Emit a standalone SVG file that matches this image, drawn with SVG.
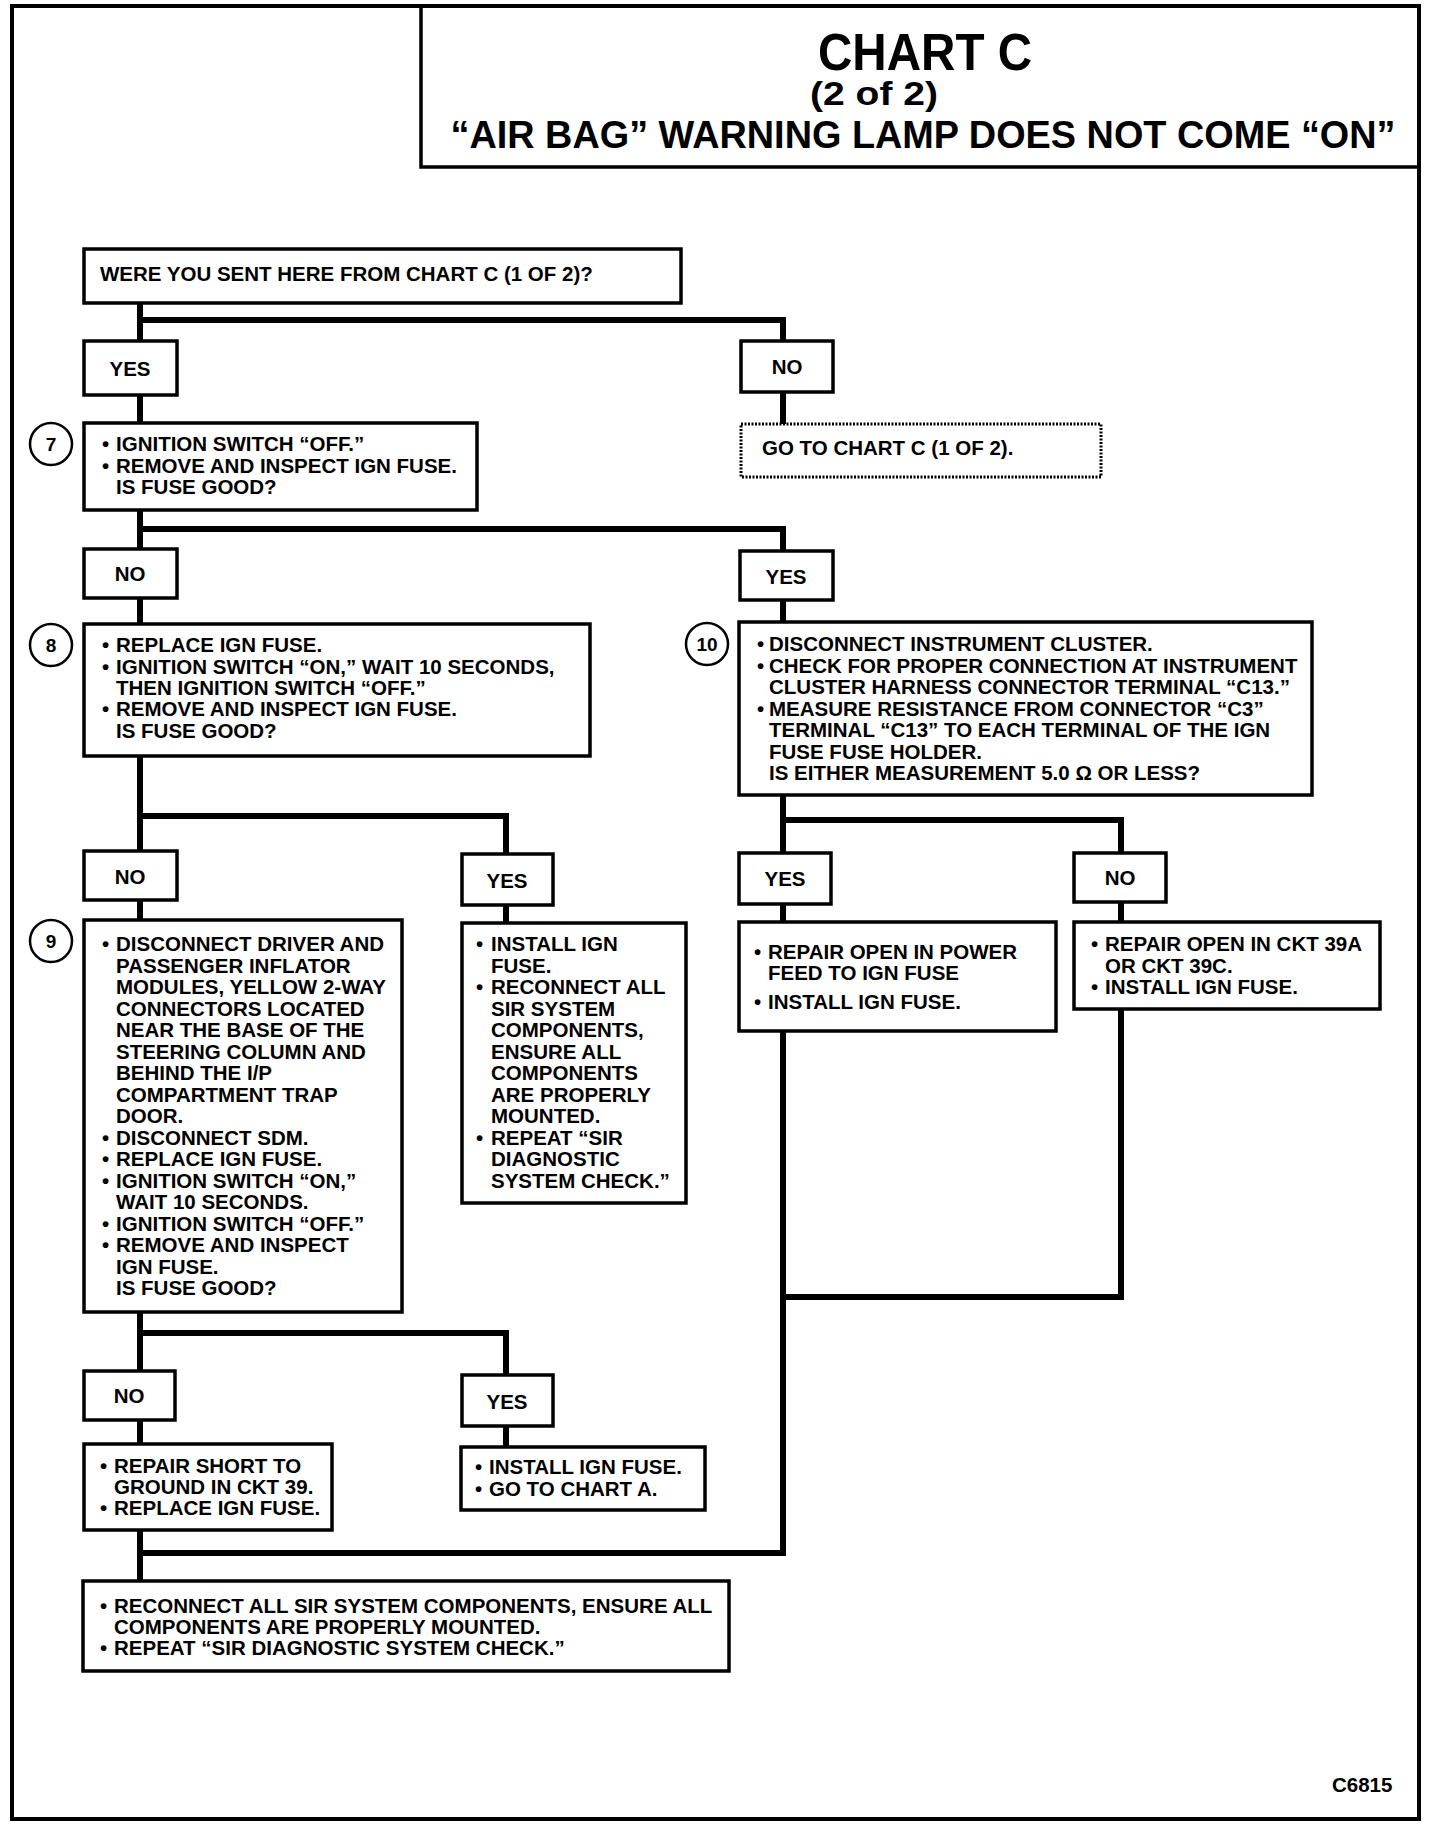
<svg xmlns="http://www.w3.org/2000/svg" width="1440" height="1830" viewBox="0 0 1440 1830">
<style>
.box{fill:#fff;stroke:#000;stroke-width:3.5}
.dash{fill:#fff;stroke:#000;stroke-width:3;stroke-dasharray:2 1.5}
.conn{fill:none;stroke:#000;stroke-width:6;stroke-linecap:square}
.circ{fill:#fff;stroke:#000;stroke-width:2.5}
.t{font-family:"Liberation Sans",Arial,sans-serif;font-weight:bold;font-size:20.5px;fill:#000}
.c{text-anchor:middle}
.num{font-family:"Liberation Sans",Arial,sans-serif;font-weight:bold;font-size:19px;text-anchor:middle;fill:#000}
.title{font-family:"Liberation Sans",Arial,sans-serif;font-weight:bold;fill:#000;text-anchor:middle}
</style>
<rect width="1440" height="1830" fill="#fff"/>
<rect x="12" y="6" width="1407" height="1813" fill="none" stroke="#000" stroke-width="4"/>

<g id="title">
<rect x="421" y="6" width="998" height="161" fill="none" stroke="#000" stroke-width="3.5"/>
<text class="title" x="925" y="70" font-size="52" textLength="214" lengthAdjust="spacingAndGlyphs">CHART C</text>
<text class="title" x="874" y="105" font-size="34" textLength="128" lengthAdjust="spacingAndGlyphs">(2 of 2)</text>
<text class="title" x="923" y="148" font-size="39" textLength="945" lengthAdjust="spacingAndGlyphs">“AIR BAG” WARNING LAMP DOES NOT COME “ON”</text>
</g>

<g id="connectors">
<path class="conn" d="M140 303 V341 M140 320 H783 V341"/>
<path class="conn" d="M140 395 V423"/>
<path class="conn" d="M783 392 V424"/>
<path class="conn" d="M140 510 V549 M140 529 H783 V551"/>
<path class="conn" d="M140 598 V624"/>
<path class="conn" d="M783 600 V622"/>
<path class="conn" d="M140 756 V851 M140 816 H506 V854"/>
<path class="conn" d="M140 900 V920"/>
<path class="conn" d="M506 905 V923"/>
<path class="conn" d="M783 795 V853 M783 820 H1121 V853"/>
<path class="conn" d="M783 904 V922"/>
<path class="conn" d="M1121 902 V922"/>
<path class="conn" d="M783 1031 V1553"/>
<path class="conn" d="M1121 1009 V1297 H783"/>
<path class="conn" d="M140 1312 V1371 M140 1333 H506 V1375"/>
<path class="conn" d="M140 1420 V1444"/>
<path class="conn" d="M506 1426 V1447"/>
<path class="conn" d="M140 1530 V1581 M140 1553 H783"/>
</g>

<g id="q-sent">
<rect class="box" x="84" y="249" width="597" height="54"/>
<text class="t" x="100" y="281">WERE YOU SENT HERE FROM CHART C (1 OF 2)?</text>
</g>

<g id="yes-1">
<rect class="box" x="84" y="341" width="93" height="54"/>
<text class="t c" x="130" y="376">YES</text>
</g>
<g id="no-1">
<rect class="box" x="741" y="341" width="92" height="51"/>
<text class="t c" x="787" y="374">NO</text>
</g>
<g id="goto-c1">
<rect class="dash" x="741" y="424" width="360" height="53"/>
<text class="t" x="762" y="455">GO TO CHART C (1 OF 2).</text>
</g>

<g id="step7">
<circle class="circ" cx="51" cy="444" r="21"/>
<text class="num" x="51" y="451">7</text>
<rect class="box" x="84" y="423" width="393" height="87"/>
<text class="t" x="102" y="451">•<tspan x="116">IGNITION SWITCH “OFF.”</tspan></text>
<text class="t" x="102" y="473">•<tspan x="116">REMOVE AND INSPECT IGN FUSE.</tspan></text>
<text class="t" x="116" y="494">IS FUSE GOOD?</text>
</g>

<g id="no-2">
<rect class="box" x="84" y="549" width="93" height="49"/>
<text class="t c" x="130" y="581">NO</text>
</g>
<g id="yes-2">
<rect class="box" x="740" y="551" width="93" height="49"/>
<text class="t c" x="786" y="584">YES</text>
</g>

<g id="step8">
<circle class="circ" cx="51" cy="645" r="21"/>
<text class="num" x="51" y="652">8</text>
<rect class="box" x="84" y="624" width="506" height="132"/>
<text class="t" x="102" y="652">•<tspan x="116">REPLACE IGN FUSE.</tspan></text>
<text class="t" x="102" y="674">•<tspan x="116">IGNITION SWITCH “ON,” WAIT 10 SECONDS,</tspan></text>
<text class="t" x="116" y="695">THEN IGNITION SWITCH “OFF.”</text>
<text class="t" x="102" y="716">•<tspan x="116">REMOVE AND INSPECT IGN FUSE.</tspan></text>
<text class="t" x="116" y="738">IS FUSE GOOD?</text>
</g>

<g id="step10">
<circle class="circ" cx="707" cy="644" r="21"/>
<text class="num" x="707" y="651">10</text>
<rect class="box" x="739" y="622" width="573" height="173"/>
<text class="t" x="757" y="651">•<tspan x="769">DISCONNECT INSTRUMENT CLUSTER.</tspan></text>
<text class="t" x="757" y="672.5">•<tspan x="769">CHECK FOR PROPER CONNECTION AT INSTRUMENT</tspan></text>
<text class="t" x="769" y="694">CLUSTER HARNESS CONNECTOR TERMINAL “C13.”</text>
<text class="t" x="757" y="715.5">•<tspan x="769">MEASURE RESISTANCE FROM CONNECTOR “C3”</tspan></text>
<text class="t" x="769" y="737">TERMINAL “C13” TO EACH TERMINAL OF THE IGN</text>
<text class="t" x="769" y="758.5">FUSE FUSE HOLDER.</text>
<text class="t" x="769" y="780">IS EITHER MEASUREMENT 5.0 Ω OR LESS?</text>
</g>

<g id="no-3">
<rect class="box" x="84" y="851" width="93" height="49"/>
<text class="t c" x="130" y="884">NO</text>
</g>
<g id="yes-3">
<rect class="box" x="462" y="854" width="91" height="51"/>
<text class="t c" x="507" y="888">YES</text>
</g>
<g id="yes-4">
<rect class="box" x="739" y="853" width="92" height="51"/>
<text class="t c" x="785" y="886">YES</text>
</g>
<g id="no-4">
<rect class="box" x="1074" y="853" width="92" height="49"/>
<text class="t c" x="1120" y="885">NO</text>
</g>

<g id="step9">
<circle class="circ" cx="51" cy="941" r="21"/>
<text class="num" x="51" y="948">9</text>
<rect class="box" x="84" y="920" width="318" height="392"/>
<text class="t" x="102" y="951">•<tspan x="116">DISCONNECT DRIVER AND</tspan></text>
<text class="t" x="116" y="972.5">PASSENGER INFLATOR</text>
<text class="t" x="116" y="994">MODULES, YELLOW 2-WAY</text>
<text class="t" x="116" y="1015.5">CONNECTORS LOCATED</text>
<text class="t" x="116" y="1037">NEAR THE BASE OF THE</text>
<text class="t" x="116" y="1058.5">STEERING COLUMN AND</text>
<text class="t" x="116" y="1080">BEHIND THE I/P</text>
<text class="t" x="116" y="1101.5">COMPARTMENT TRAP</text>
<text class="t" x="116" y="1123">DOOR.</text>
<text class="t" x="102" y="1144.5">•<tspan x="116">DISCONNECT SDM.</tspan></text>
<text class="t" x="102" y="1166">•<tspan x="116">REPLACE IGN FUSE.</tspan></text>
<text class="t" x="102" y="1187.5">•<tspan x="116">IGNITION SWITCH “ON,”</tspan></text>
<text class="t" x="116" y="1209">WAIT 10 SECONDS.</text>
<text class="t" x="102" y="1230.5">•<tspan x="116">IGNITION SWITCH “OFF.”</tspan></text>
<text class="t" x="102" y="1252">•<tspan x="116">REMOVE AND INSPECT</tspan></text>
<text class="t" x="116" y="1273.5">IGN FUSE.</text>
<text class="t" x="116" y="1295">IS FUSE GOOD?</text>
</g>

<g id="install-reconnect">
<rect class="box" x="462" y="923" width="224" height="280"/>
<text class="t" x="476" y="951">•<tspan x="491">INSTALL IGN</tspan></text>
<text class="t" x="491" y="972.5">FUSE.</text>
<text class="t" x="476" y="994">•<tspan x="491">RECONNECT ALL</tspan></text>
<text class="t" x="491" y="1015.5">SIR SYSTEM</text>
<text class="t" x="491" y="1037">COMPONENTS,</text>
<text class="t" x="491" y="1058.5">ENSURE ALL</text>
<text class="t" x="491" y="1080">COMPONENTS</text>
<text class="t" x="491" y="1101.5">ARE PROPERLY</text>
<text class="t" x="491" y="1123">MOUNTED.</text>
<text class="t" x="476" y="1144.5">•<tspan x="491">REPEAT “SIR</tspan></text>
<text class="t" x="491" y="1166">DIAGNOSTIC</text>
<text class="t" x="491" y="1187.5">SYSTEM CHECK.”</text>
</g>

<g id="repair-power">
<rect class="box" x="739" y="922" width="317" height="109"/>
<text class="t" x="754" y="959">•<tspan x="768">REPAIR OPEN IN POWER</tspan></text>
<text class="t" x="768" y="980">FEED TO IGN FUSE</text>
<text class="t" x="754" y="1009">•<tspan x="768">INSTALL IGN FUSE.</tspan></text>
</g>

<g id="repair-ckt39a">
<rect class="box" x="1074" y="922" width="306" height="87"/>
<text class="t" x="1091" y="951">•<tspan x="1105">REPAIR OPEN IN CKT 39A</tspan></text>
<text class="t" x="1105" y="973">OR CKT 39C.</text>
<text class="t" x="1091" y="994">•<tspan x="1105">INSTALL IGN FUSE.</tspan></text>
</g>

<g id="no-5">
<rect class="box" x="84" y="1371" width="91" height="49"/>
<text class="t c" x="129" y="1403">NO</text>
</g>
<g id="yes-5">
<rect class="box" x="462" y="1375" width="91" height="51"/>
<text class="t c" x="507" y="1409">YES</text>
</g>

<g id="repair-short">
<rect class="box" x="84" y="1444" width="248" height="86"/>
<text class="t" x="100" y="1473">•<tspan x="114">REPAIR SHORT TO</tspan></text>
<text class="t" x="114" y="1494">GROUND IN CKT 39.</text>
<text class="t" x="100" y="1515">•<tspan x="114">REPLACE IGN FUSE.</tspan></text>
</g>

<g id="install-chart-a">
<rect class="box" x="461" y="1447" width="244" height="63"/>
<text class="t" x="475" y="1474">•<tspan x="489">INSTALL IGN FUSE.</tspan></text>
<text class="t" x="475" y="1496">•<tspan x="489">GO TO CHART A.</tspan></text>
</g>

<g id="final">
<rect class="box" x="83" y="1581" width="646" height="90"/>
<text class="t" x="100" y="1613">•<tspan x="114">RECONNECT ALL SIR SYSTEM COMPONENTS, ENSURE ALL</tspan></text>
<text class="t" x="114" y="1634">COMPONENTS ARE PROPERLY MOUNTED.</text>
<text class="t" x="100" y="1655">•<tspan x="114">REPEAT “SIR DIAGNOSTIC SYSTEM CHECK.”</tspan></text>
</g>

<text class="t" x="1332" y="1792" font-size="20">C6815</text>
</svg>
